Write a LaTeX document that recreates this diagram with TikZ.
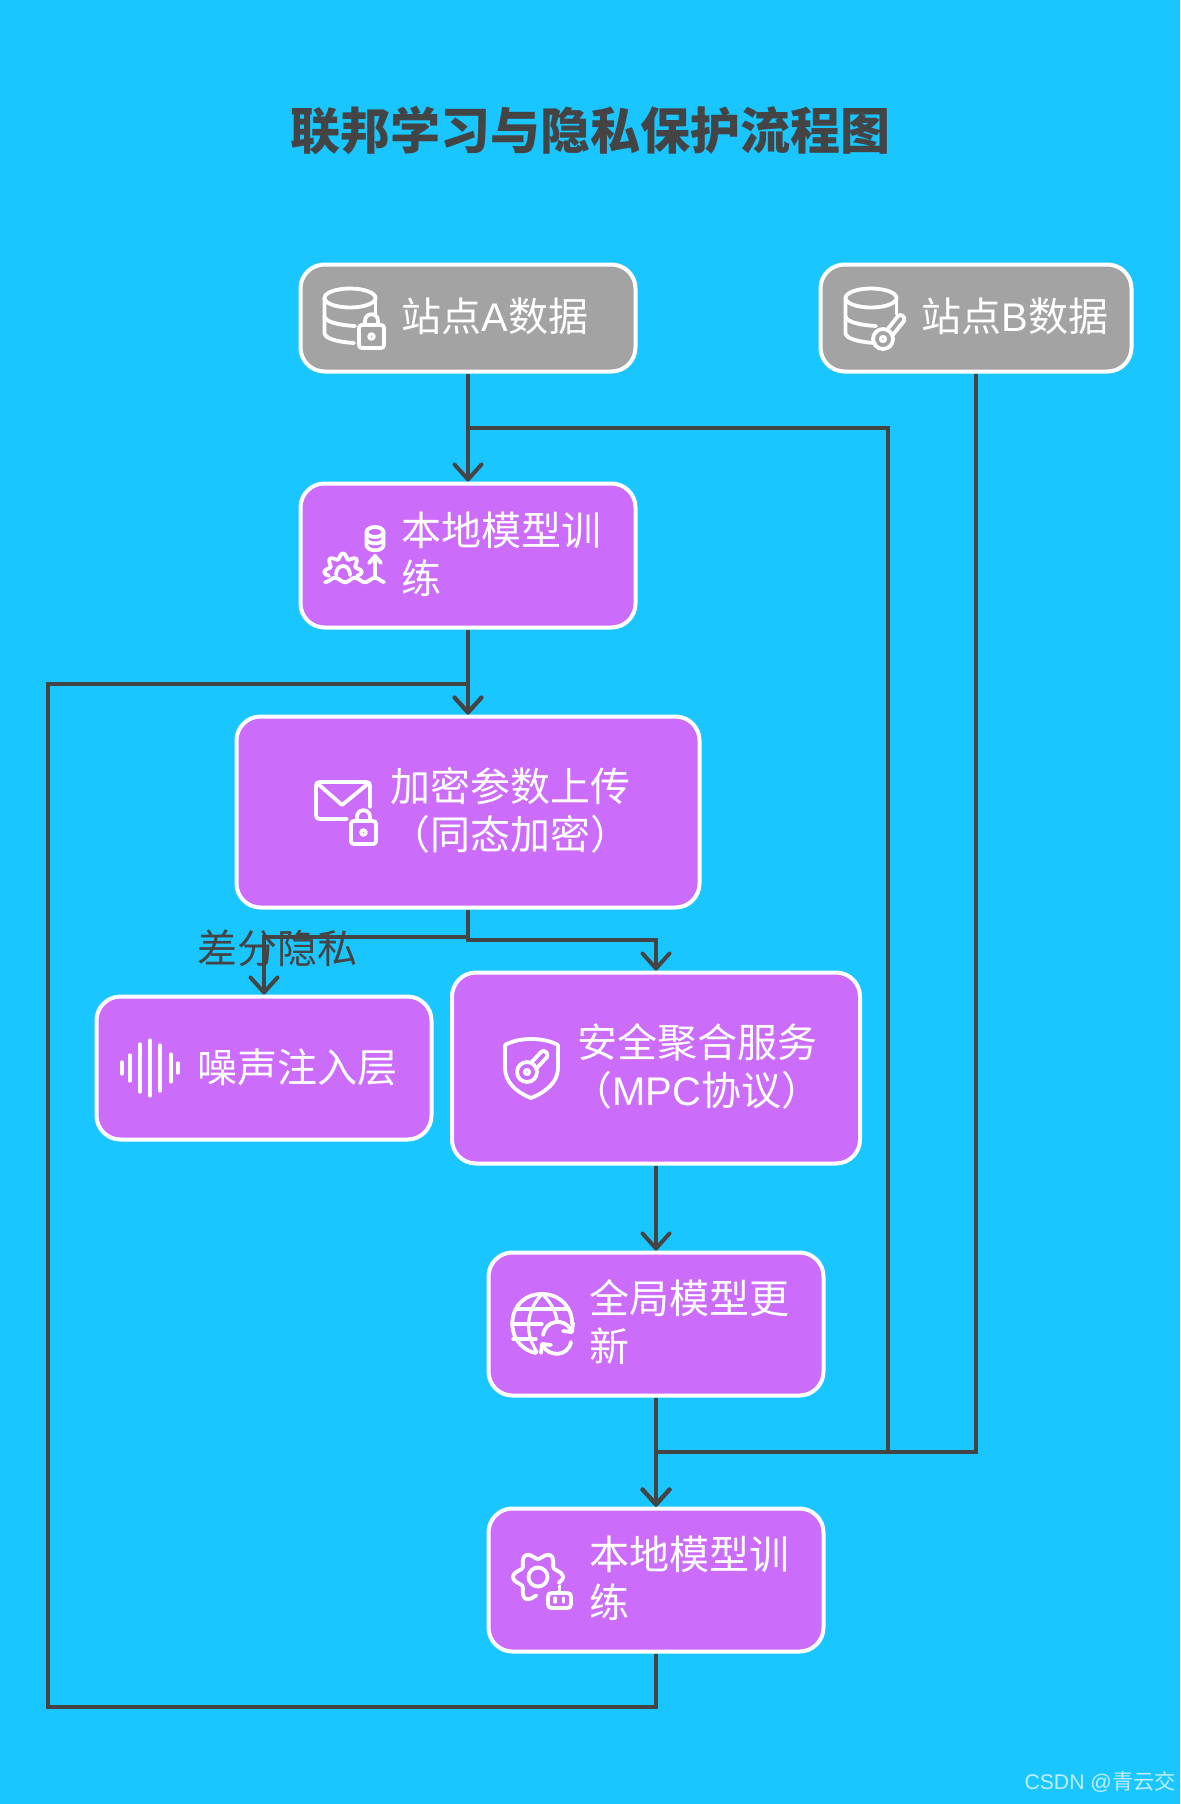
\documentclass[tikz,border=0pt]{standalone}
\usepackage{fontspec}
\setmainfont{Noto Sans CJK SC}
\newfontfamily\lat{Liberation Sans}
\usetikzlibrary{arrows.meta}
\definecolor{bgc}{HTML}{1AC6FF}
\definecolor{greyc}{HTML}{A3A3A3}
\definecolor{purc}{HTML}{CC6CFB}
\definecolor{linec}{HTML}{444444}
\tikzset{
  x=0.5pt,y=-0.5pt,
  card/.style={draw=white,line width=2pt,rounded corners=12pt,inner sep=0pt},
  greycard/.style={card,fill=greyc},
  purcard/.style={card,fill=purc},
  label/.style={text=white,inner sep=0pt,font=\fontsize{20}{24}\selectfont},
  conn/.style={draw=linec,line width=2pt},
  arr/.style={conn,-{Straight Barb[length=7.5pt,width=13.5pt,round]}},
  ic/.style={draw=white,line width=1.9pt,line cap=round,line join=round,fill=none},
  icthin/.style={draw=white,line width=1.6pt,line cap=round,line join=round,fill=none},
}
\newcommand{\lockicon}[2]{%
  \begin{scope}[shift={(#1,#2)}]
    \draw[ic] (2,0) -- (22,0) .. controls (24,0) and (25,1) .. (25,3) -- (25,20) .. controls (25,22) and (24,23) .. (22,23) -- (3,23) .. controls (1,23) and (0,22) .. (0,20) -- (0,3) .. controls (0,1) and (1,0) .. (3,0);
    \draw[ic] (6,0) -- (6,-4) .. controls (6,-13) and (19,-13) .. (19,-4) -- (19,0);
    \draw[icthin] (12.5,11.5) circle [radius=2.6];
  \end{scope}}
\newcommand{\dbicon}[2]{%
  \begin{scope}[shift={(#1,#2)}]
    \draw[ic] (26,10) ellipse [x radius=25.5,y radius=9.5];
    \draw[ic] (0.5,10) -- (0.5,45) .. controls (0.5,50) and (12,54) .. (30,55);
    \draw[ic] (0.5,28) .. controls (0.5,33) and (12,37) .. (31,38);
    \draw[ic] (51.5,10) -- (51.5,26);
  \end{scope}}
\newcommand{\keyicon}[4]{% ring x y, tip x y
  \draw[ic] (#1,#2) circle [radius=10];
  \draw[icthin] (#1,#2) circle [radius=2.5];
  \draw[ic] ({#1+4},{#2-9}) -- ({#3-4},{#4-4}) .. controls ({#3-1},{#4-7}) and ({#3+4},{#4-3}) .. ({#3+2},{#4+1}) -- ({#1+9},{#2-3});}
\begin{document}
\begin{tikzpicture}
\useasboundingbox[fill=bgc] (0,0) rectangle (1180,1804);

\node[text=linec,inner sep=0pt,font=\fontsize{25}{30}\selectfont\bfseries] (title) at (590,131) {联邦学习与隐私保护流程图};

% boxes
\node[greycard,minimum width=167.5pt,minimum height=53.5pt] (siteA) at (468,318) {};
\node[greycard,minimum width=155.5pt,minimum height=53.5pt] (siteB) at (976,318) {};
\node[purcard,minimum width=167.5pt,minimum height=72pt] (train) at (468,555.5) {};
\node[purcard,minimum width=231.5pt,minimum height=95.5pt] (enc) at (468,812) {};
\node[purcard,minimum width=167.5pt,minimum height=71.5pt] (noise) at (264,1068) {};
\node[purcard,minimum width=204pt,minimum height=95.5pt] (sec) at (656,1068) {};
\node[purcard,minimum width=167.5pt,minimum height=71.5pt] (glob) at (656,1324) {};
\node[purcard,minimum width=167.5pt,minimum height=71.5pt] (last) at (656,1580) {};

% texts
\node[label,anchor=west] (tA) at (401,316) {站点{\lat A}数据};
\node[label,anchor=west] (tB) at (921,316) {站点{\lat B}数据};
\node[label,anchor=west,align=left] (tT) at (401,554) {本地模型训\\练};
\node[label,align=center] (tE) at (510,810) {加密参数上传\\（同态加密）};
\node[label,anchor=west] (tN) at (197,1067) {噪声注入层};
\node[label,align=center] (tS) at (697,1066) {安全聚合服务\\（{\lat MPC}协议）};
\node[label,anchor=west,align=left] (tG) at (589,1322) {全局模型更\\新};
\node[label,anchor=west,align=left] (tL) at (589,1578) {本地模型训\\练};

% routing points
\coordinate (a1) at (468,428);
\coordinate (a2) at (888,428);
\coordinate (a3) at (888,1452);
\coordinate (j) at (656,1452);
\coordinate (b1) at (976,1452);
\coordinate (l1) at (656,1707);
\coordinate (l2) at (48,1707);
\coordinate (l3) at (48,683.5);
\coordinate (l4) at (468,683.5);
\coordinate (e1) at (468,937);
\coordinate (e2) at (264,937);
\coordinate (e3) at (468,939.5);
\coordinate (e4) at (656,939.5);

% connectors
\draw[arr] (siteA.south) -- (train.north);
\draw[arr] (siteA.south) -- (a1) -- (a2) -- (a3) -- (j) -- (last.north);
\draw[arr] (siteB.south) -- (b1) -- (j) -- (last.north);
\draw[arr] (train.south) -- (enc.north);
\draw[arr] (enc.south) -- (e1) -- (e2) -- (noise.north);
\draw[arr] (enc.south) -- (e3) -- (e4) -- (sec.north);
\draw[arr] (sec.south) -- (glob.north);
\draw[arr] (glob.south) -- (last.north);
\draw[arr] (last.south) -- (l1) -- (l2) -- (l3) -- (l4) -- (enc.north);

\node[text=linec,inner sep=0pt,font=\fontsize{20}{24}\selectfont] (dp) at (277,948) {差分隐私};

% icon: database + lock
\dbicon{324}{288}
\lockicon{359}{325}
% icon: database + key
\dbicon{845}{288}
\keyicon{883}{339}{902}{320}
% icon: small db, arrow, gear, waves
\draw[ic] (375,532) ellipse [x radius=8.5,y radius=5];
\draw[ic] (366.5,532) -- (366.5,545) .. controls (366.5,552) and (383.5,552) .. (383.5,545) -- (383.5,532);
\draw[ic] (366.5,538.5) .. controls (366.5,545) and (383.5,545) .. (383.5,538.5);
\draw[ic] (375,578) -- (375,556);
\draw[ic] (369,563) -- (375,556) -- (381,563);
\begin{scope}[shift={(343,572)}]
  \draw[ic] plot[smooth,samples=33,domain=165:375] (\x:{16+2.8*cos(8*\x)});
  \draw[ic] (-7,3) .. controls (-7,-9) and (7,-9) .. (7,3);
\end{scope}
\draw[ic] plot[smooth,samples=41,domain=325:384] (\x,{580+2.2*cos(18*(\x-325))});
% icon: mail + lock
\draw[ic] (347,819) -- (320,819) .. controls (317,819) and (316,818) .. (316,815) -- (316,786) .. controls (316,783) and (317,782) .. (320,782) -- (366,782) .. controls (369,782) and (370,783) .. (370,786) -- (370,807);
\draw[ic] (317,783) -- (342,805) -- (369,783);
\lockicon{351}{821}
% icon: noise
\foreach \bx/\bh in {122/6,130/13,140/24,150/28,160/23,171/14,178/5}
  \draw[icthin] (\bx,{1068-\bh}) -- (\bx,{1068+\bh});
% icon: shield + key
\draw[ic] (531,1039) .. controls (541,1039) and (551,1041) .. (558,1045) -- (558,1068) .. controls (558,1082) and (546,1092) .. (531,1098) .. controls (516,1092) and (505,1082) .. (505,1068) -- (505,1045) .. controls (512,1041) and (521,1039) .. (531,1039) -- cycle;
\keyicon{527}{1072}{545}{1056}
% icon: globe + refresh
\begin{scope}[shift={(542,1324)}]
  \draw[ic] (-6,29) .. controls (-40,22) and (-37,-30) .. (0,-30) .. controls (20,-30) and (31,-14) .. (30,0);
  \draw[icthin] (-5,28) .. controls (-17,10) and (-17,-12) .. (0,-30) .. controls (9,-22) and (14,-12) .. (15,-3);
  \draw[icthin] (-25,-15) -- (25,-15);
  \draw[icthin] (-29,15) -- (-6,15);
  \draw[icthin] (-30,0) -- (0,0);
\end{scope}
\begin{scope}[shift={(557,1338)}]
  \draw[ic] (-14,-3) .. controls (-11,-19) and (8,-20) .. (14,-8);
  \draw[ic] (16,-15) -- (15,-6) -- (6,-7);
  \draw[ic] (14,4) .. controls (11,19) and (-8,19) .. (-14,8);
  \draw[ic] (-16,15) -- (-15,6) -- (-6,7);
\end{scope}
% icon: gear + robot
\begin{scope}[shift={(538,1577)}]
  \draw[ic] plot[smooth,samples=60,domain=95:375] (\x:{21.5+3.5*cos(6*\x)});
  \draw[ic] (0,0) circle [radius=9.5];
\end{scope}
\draw[ic] (552,1593) -- (567,1593) .. controls (570,1593) and (571,1594) .. (571,1597) -- (571,1604) .. controls (571,1607) and (570,1608) .. (567,1608) -- (552,1608) .. controls (549,1608) and (548,1607) .. (548,1604) -- (548,1597) .. controls (548,1594) and (549,1593) .. (552,1593) -- cycle;
\draw[ic] (559.5,1593) -- (559.5,1586);
\draw[icthin] (555,1598) -- (555,1602);
\draw[icthin] (563.5,1598) -- (563.5,1602);

\node[text=white,opacity=0.72,inner sep=0pt,anchor=east,font=\fontsize{10.6}{13}\selectfont] (mark) at (1176,1782) {{\lat CSDN @}青云交};
\end{tikzpicture}
\end{document}
